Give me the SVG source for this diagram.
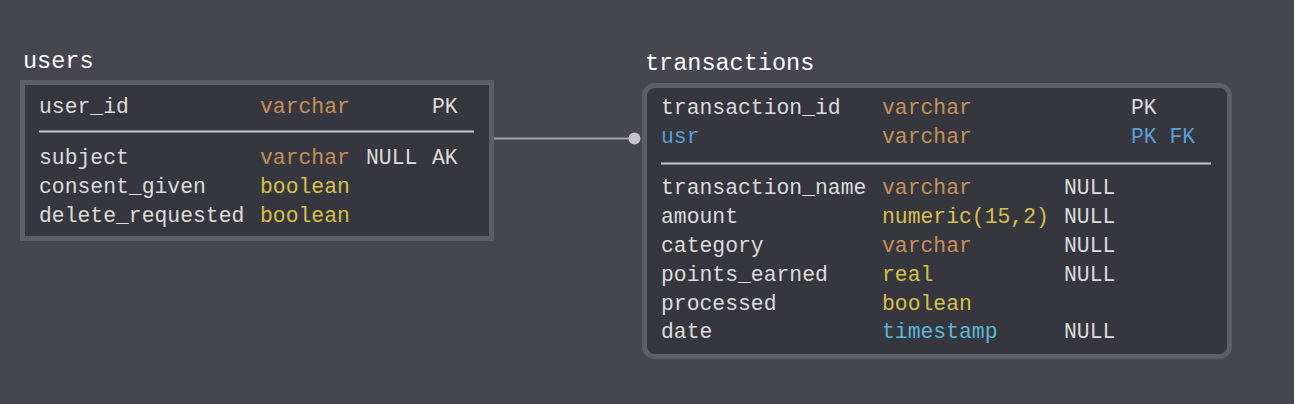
<svg xmlns="http://www.w3.org/2000/svg" width="1294" height="404" viewBox="0 0 1294 404">
<style>
text{font-family:"Liberation Mono","DejaVu Sans Mono",monospace;font-size:21.4px;fill:#dcdcdc}
.title{font-size:23.5px;fill:#ffffff}
.vc{fill:#c4915c}
.yl{fill:#d6c14c}
.ts{fill:#5cb6d6}
.fk{fill:#5b9fd8}
.box{fill:#36363e;stroke:#5c5d66;stroke-width:5}
.sep{stroke:#c8c8cc;stroke-width:2}
</style>
<rect width="1294" height="404" fill="#46464f"/>
<g id="connectors">
<line x1="494" y1="138.5" x2="634" y2="138.5" stroke="#a4a4ac" stroke-width="2"/>
<circle cx="634.5" cy="138.5" r="6" fill="#c4c3cc"/>
</g>
<g id="users">
<text class="title" x="23" y="68">users</text>
<rect class="box" x="22.5" y="82.5" width="469" height="156"/>
<text x="39" y="113">user_id</text><text class="vc" x="260" y="113">varchar</text><text x="432" y="113">PK</text>
<line class="sep" x1="39" y1="131.5" x2="474" y2="131.5"/>
<text x="39" y="164">subject</text><text class="vc" x="260" y="164">varchar</text><text x="366" y="164">NULL</text><text x="432" y="164">AK</text>
<text x="39" y="193">consent_given</text><text class="yl" x="260" y="193">boolean</text>
<text x="39" y="222">delete_requested</text><text class="yl" x="260" y="222">boolean</text>
</g>
<g id="transactions">
<text class="title" x="645" y="70">transactions</text>
<rect class="box" x="644.5" y="85.5" width="585" height="271" rx="10"/>
<text x="661" y="114">transaction_id</text><text class="vc" x="882" y="114">varchar</text><text x="1131" y="114">PK</text>
<text class="fk" x="661" y="143">usr</text><text class="vc" x="882" y="143">varchar</text><text class="fk" x="1131" y="143">PK FK</text>
<line class="sep" x1="661" y1="163.5" x2="1211" y2="163.5"/>
<text x="661" y="194">transaction_name</text><text class="vc" x="882" y="194">varchar</text><text x="1064" y="194">NULL</text>
<text x="661" y="223">amount</text><text class="yl" x="882" y="223">numeric(15,2)</text><text x="1064" y="223">NULL</text>
<text x="661" y="252">category</text><text class="vc" x="882" y="252">varchar</text><text x="1064" y="252">NULL</text>
<text x="661" y="281">points_earned</text><text class="yl" x="882" y="281">real</text><text x="1064" y="281">NULL</text>
<text x="661" y="310">processed</text><text class="yl" x="882" y="310">boolean</text>
<text x="661" y="338">date</text><text class="ts" x="882" y="338">timestamp</text><text x="1064" y="338">NULL</text>
</g>
</svg>
